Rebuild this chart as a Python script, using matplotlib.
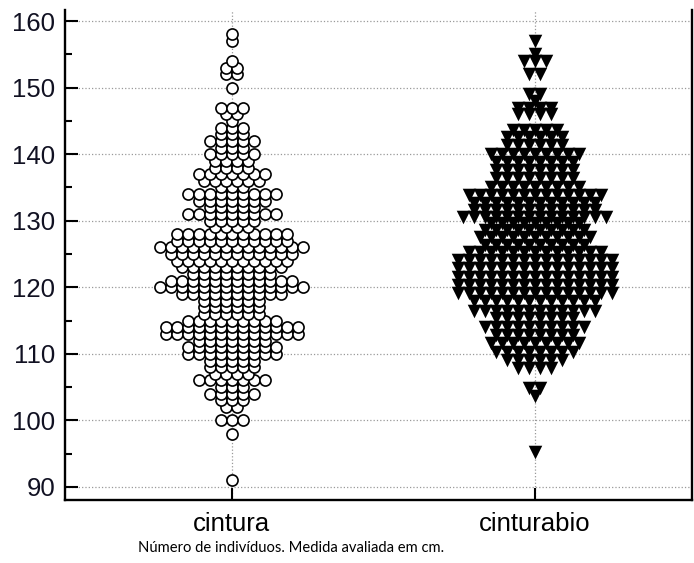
import numpy as np
import matplotlib.pyplot as plt
from matplotlib.ticker import MultipleLocator

categories = ["cintura", "cinturabio"]

# cintura: valor (cm) e número de pontos em cada linha do enxame
cintura_vals = [91, 98, 100, 102, 103, 104, 105, 106, 107, 108, 109, 110, 111, 112,
                113, 114, 115, 116, 117, 118, 119, 120, 121, 122, 123, 124, 125, 126,
                127, 128, 129, 130, 131, 132, 133, 134, 135, 136, 137, 138, 139, 140,
                141, 142, 143, 144, 145, 146, 147, 150, 152, 153, 154, 157, 158]
cintura_n = [1, 1, 3, 2, 3, 5, 3, 7, 4, 5, 5, 9, 9, 7,
             13, 13, 9, 6, 6, 6, 10, 14, 12, 8, 10, 11, 12, 14,
             11, 11, 4, 5, 9, 5, 7, 9, 3, 6, 7, 4, 4, 5,
             3, 5, 3, 3, 1, 2, 3, 1, 2, 2, 1, 1, 1]

# cinturabio
cinturabio_vals = [95.3, 103.6, 104.8, 107.9, 109.1, 110.3, 111.6, 112.9, 114.1, 115.4,
                   116.4, 117.9, 119.1, 120.4, 121.6, 122.9, 124.1, 125.3, 126.4, 127.6,
                   128.6, 129.6, 130.6, 131.6, 132.6, 133.9, 135.1, 136.4, 137.6, 138.9,
                   140.1, 141.4, 142.6, 143.6, 146, 147, 148, 149, 152, 154, 155, 157]
cinturabio_n = [1, 1, 2, 4, 6, 8, 9, 8, 10, 8,
                12, 12, 15, 15, 15, 15, 15, 13, 10, 11,
                10, 9, 14, 12, 12, 13, 9, 8, 8, 8,
                9, 6, 6, 5, 4, 4, 1, 2, 2, 3, 1, 1]

caption = "Número de indivíduos. Medida avaliada em cm."


def swarm(vals, counts, center, step):
    # pontos com o mesmo valor ficam lado a lado, centrados na categoria
    xs, ys = [], []
    for v, n in zip(vals, counts):
        off = (np.arange(n) - (n - 1) / 2) * step
        xs.extend(center + off)
        ys.extend([v] * n)
    return np.array(xs), np.array(ys)


fig = plt.figure(figsize=(6.94, 5.63), dpi=100)
ax = fig.add_axes([0.0937, 0.112, 0.903, 0.87])

step = 0.0363
x1, y1 = swarm(cintura_vals, cintura_n, 1, step)
x2, y2 = swarm(cinturabio_vals, cinturabio_n, 2, step)

ax.scatter(x1, y1, s=64, marker="o", facecolors="white", edgecolors="black",
           linewidths=1.2, zorder=3)
ax.scatter(x2, y2, s=95, marker="v", color="black", linewidths=0, zorder=3)

ax.set_xlim(0.449, 2.518)
ax.set_ylim(88.05, 161.65)
ax.set_xticks([1, 2])
ax.set_xticklabels(categories, fontsize=18.5, family="Liberation Sans")
ax.yaxis.set_major_locator(MultipleLocator(10))
ax.yaxis.set_minor_locator(MultipleLocator(5))
for lab in ax.get_yticklabels():
    lab.set_family("Liberation Sans")
    lab.set_fontsize(18.5)
    lab.set_color("#111122")

ax.grid(True, which="major", color="#999999", linestyle=":", linewidth=0.9, zorder=0)
ax.tick_params(axis="y", which="major", direction="in", length=9, width=1.5, pad=7)
ax.tick_params(axis="y", which="minor", direction="in", length=5, width=1.5)
ax.tick_params(axis="x", which="major", direction="in", length=9, width=1.5, pad=9)
ax.tick_params(axis="y", right=False)

ax.spines["top"].set_visible(False)
for s in ["left", "bottom", "right"]:
    ax.spines[s].set_linewidth(1.7)

fig.text(0.199, 0.027, caption, fontsize=10.6, family="Lato", ha="left", va="center")

fig.savefig("out.png", dpi=100)
